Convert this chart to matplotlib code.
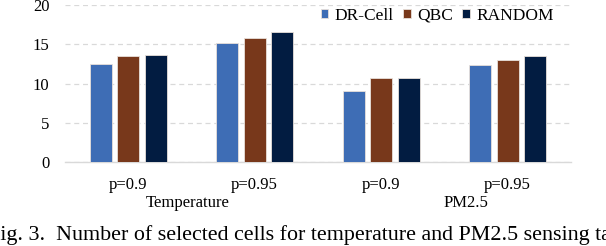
import numpy as np
import matplotlib
matplotlib.use("Agg")
import matplotlib.pyplot as plt

# --- Data ---
tick_labels = ["p=0.9", "p=0.95", "p=0.9", "p=0.95"]
task_labels = ["Temperature", "PM2.5"]
series_names = ["DR-Cell", "QBC", "RANDOM"]
dr_cell = [12.5, 15.1, 9.1, 12.4]
qbc = [13.5, 15.8, 10.7, 13.0]
random_sel = [13.6, 16.5, 10.7, 13.5]
colors = ["#3E6DB5", "#78381B", "#021C41"]

plt.rcParams['font.family'] = ['Liberation Serif', 'DejaVu Serif']

fig = plt.figure(figsize=(6.06, 2.46), dpi=100)
ax = fig.add_axes([0.107, 0.341, 0.835, 0.639])

x = np.arange(len(tick_labels))
width = 0.174
step = 0.217
for i, (vals, name) in enumerate(zip([dr_cell, qbc, random_sel], series_names)):
    ax.bar(x + (i - 1) * step, vals, width, color=colors[i], label=name,
           edgecolor="#E8E0DA", linewidth=0.6, zorder=3)

ax.set_xlim(-0.5, 3.5)
ax.set_ylim(0, 20)
ax.set_yticks([0, 5, 10, 15, 20])
ax.set_xticks(x)
ax.set_xticklabels(tick_labels)
ax.tick_params(axis='both', length=0, labelsize=12, colors="black")
ax.tick_params(axis='x', pad=10.5)
ax.tick_params(axis='y', pad=11)

ax.yaxis.grid(True, linestyle=(0, (4, 3)), color="#D9D9D9", linewidth=0.9, zorder=0)
for s in ["top", "right", "left"]:
    ax.spines[s].set_visible(False)
ax.spines["bottom"].set_color("#D9D9D9")
ax.spines["bottom"].set_linewidth(1.0)

# task labels under the tick labels
ax.text(0.47, -0.26, task_labels[0], transform=ax.get_xaxis_transform(),
        ha='center', va='center', fontsize=12)
ax.text(2.67, -0.26, task_labels[1], transform=ax.get_xaxis_transform(),
        ha='center', va='center', fontsize=12)

ax.legend(loc='upper right', bbox_to_anchor=(0.98, 1.025), ncol=3, frameon=False,
          fontsize=12.5, handlelength=0.45, handleheight=0.45, handletextpad=0.35,
          columnspacing=0.55, borderaxespad=0)

fig.text(-0.02, 0.025, "Fig. 3.  Number of selected cells for temperature and PM2.5 sensing tasks.",
         ha='left', va='baseline', fontsize=15.8)

fig.savefig("out.png", dpi=100)
